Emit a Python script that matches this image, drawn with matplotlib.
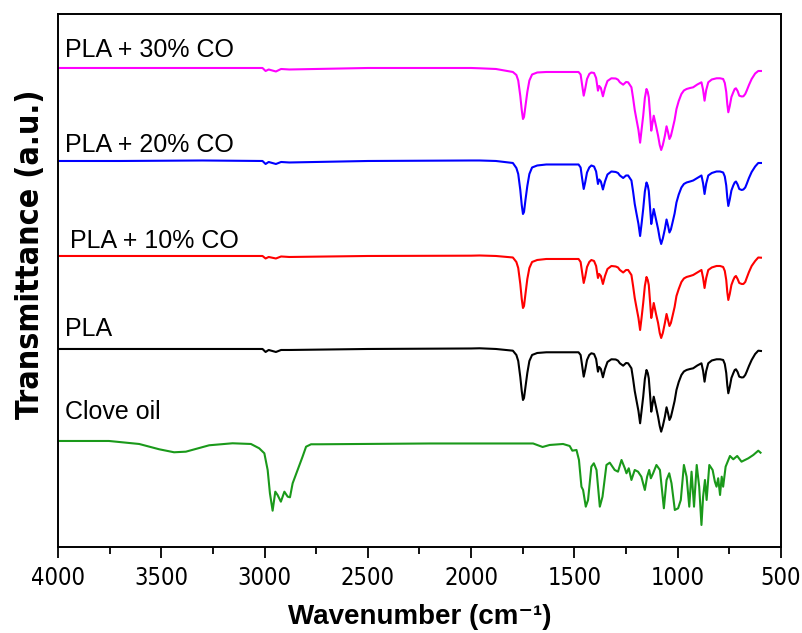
import numpy as np
import matplotlib
matplotlib.use("Agg")
import matplotlib.pyplot as plt
from matplotlib import font_manager as fm
from matplotlib.ticker import MultipleLocator

# narrow axis font if the condensed DejaVu face is installed
_cond = "Condensed" in fm.findfont(fm.FontProperties(family="DejaVu Sans", stretch="condensed"))
AXFONT = dict(family="DejaVu Sans", stretch="condensed") if _cond else dict(family="Liberation Sans")

# ---- data (relative transmittance, a.u.; 0 = flat baseline) ----
pla_wn = [4000, 3700, 3300, 3010, 2995, 2980, 2945, 2920, 2880, 2500, 2000, 1959, 1880,
          1798, 1781, 1772, 1762, 1755, 1749, 1744, 1737, 1728, 1718, 1705, 1680, 1636,
          1480, 1470, 1463, 1455, 1448, 1439, 1428, 1418, 1405, 1395, 1386, 1380, 1372,
          1362, 1352, 1340, 1321, 1300, 1289, 1280, 1264, 1250, 1240, 1224, 1216, 1208,
          1200, 1190, 1182, 1175, 1167, 1159, 1151, 1145, 1140, 1133, 1128, 1122, 1116,
          1105, 1095, 1087, 1080, 1072, 1062, 1054, 1047, 1040, 1033, 1025, 1015, 1006,
          995, 982, 970, 957, 940, 925, 905, 885, 877, 870, 862, 852, 835, 812, 795, 780,
          772, 765, 760, 755, 748, 740, 731, 724, 718, 710, 702, 690, 682, 673, 666,
          655, 642, 625, 610, 597]

pla = [0, 0, 0, 0, -3, -1, -3, -1, -1, 0, 0.5, 0.7, 0,
       -1.7, -6, -12, -28, -42, -51, -49, -38, -24, -12, -6, -4, -3.3,
       -3.3, -6, -16, -27.7, -21, -11, -6, -4.3, -5, -10, -22.7, -18, -20,
       -28.3, -20, -13, -10.3, -10.5, -11.7, -14.3, -16.7, -14, -14.3, -19.3, -30, -42,
       -51, -62, -74.3, -62, -47.7, -30, -21, -24, -29.3, -48, -62.7, -55, -47.7,
       -58, -67.7, -77, -82.7, -77, -67.7, -58.3, -64, -71, -68, -61, -52, -41,
       -33, -26, -22.5, -21, -20, -19.3, -16.5, -14.3, -22, -32.7, -22, -14.3, -11.5, -10.3, -10.3, -11,
       -15, -24, -36, -44.3, -38, -29, -24.3, -21, -20.3, -23, -27.7, -28.5, -28.3, -26, -22.7,
       -17, -11, -5, -1.7, -2]

pla_10co = [0, 0, 0, 0, -2.5, -1, -2.5, -0.5, -1, 0, 0.3, 0.5, 0,
            -1.5, -6, -12, -28, -43, -52, -50, -38, -23, -12, -6, -4, -3,
            -3, -6, -16, -27, -21, -11, -6, -4, -5, -10, -22, -18, -20,
            -28, -20, -13, -10, -10.5, -11.5, -14, -16.5, -14, -14, -19, -30, -42,
            -51, -62, -74, -62, -47, -30, -21, -24, -29, -48, -62, -55, -47,
            -58, -67, -77, -82, -77, -67, -58, -64, -70, -67, -60, -51, -40,
            -33, -26, -22.5, -21, -20, -19, -16.5, -14, -22, -32, -22, -14, -11.5, -10, -10, -11,
            -15, -24, -36, -44, -38, -29, -24, -21, -20, -23, -27, -28, -28, -26, -22,
            -16, -10, -5, -1.5, -1.7]

pla_20co = [0, 0, 0.5, 0, -3, -1, -3, -1, -1.5, 0, 0.5, 0.5, 0,
            -2, -7, -13, -29, -44, -53, -51, -39, -25, -13, -6.5, -4.5, -3.5,
            -3.5, -6.5, -17, -28, -21.5, -11.5, -6.5, -4.5, -5.5, -10.5, -23, -18.5, -20.5,
            -28.5, -20.5, -13.5, -10.5, -11, -12, -14.5, -17, -14.5, -14.5, -19.5, -30.5, -43,
            -52, -63, -75, -63, -48, -30.5, -21.5, -24.5, -30, -49, -63, -55.5, -48,
            -58.5, -68, -77.5, -83, -77.5, -68, -58.5, -64.5, -71.5, -68.5, -61.5, -52.5, -41.5,
            -33.5, -26.5, -23, -21.5, -20.5, -19.5, -17, -14.5, -22.5, -33, -22.5, -14.5, -12, -10.5, -10.5, -11.5,
            -15.5, -24.5, -36.5, -45, -38.5, -29.5, -24.5, -21.5, -20.5, -23.5, -28, -29, -28.5, -26.5, -23,
            -17, -11, -5.5, -2, -2]

pla_30co = [0, 0, 0, 0, -3, -1.5, -3.5, -1, -1.5, 0, 0, -0.3, -1,
            -4, -7, -12.5, -28, -42, -51, -49, -38, -24, -12.5, -6.5, -4.5, -4,
            -4, -6.5, -16.5, -27.7, -21, -11, -6, -4.5, -5, -10, -22.7, -18, -20,
            -28.3, -20, -13, -10.3, -10.5, -11.7, -14.3, -16.7, -14, -14.3, -19.3, -30, -42,
            -51, -62, -74.7, -62, -47.7, -30, -21, -24, -29.3, -48, -62.7, -55, -47.7,
            -58, -67.7, -77, -82, -77, -67.7, -58.3, -64, -71, -68, -61, -52, -41,
            -33, -26, -22.5, -21, -20, -19.3, -16.5, -14.3, -22, -32.7, -22, -14.3, -11.5, -10.3, -10.3, -11,
            -15, -24, -36, -44.3, -38, -29, -24.3, -21, -20.3, -23, -27.7, -28.5, -28.3, -26, -22.7,
            -17, -11, -5.5, -3, -3]

clove_wn = [4000, 3753, 3607, 3510, 3438, 3381, 3268, 3155, 3066, 3026, 3001, 2985, 2974,
            2961, 2948, 2937, 2921, 2904, 2888, 2877, 2864, 2840, 2816, 2799, 2775, 2735,
            2200, 1700, 1654, 1620, 1555, 1523, 1510, 1490, 1478, 1466, 1458, 1445, 1434,
            1418, 1406, 1393, 1377, 1364, 1345, 1329, 1305, 1289, 1272, 1256, 1248, 1237,
            1224, 1208, 1192, 1176, 1159, 1148, 1138, 1130, 1119, 1103, 1086, 1067, 1054,
            1041, 1030, 1014, 998, 985, 970, 957, 944, 933, 921, 908, 896, 885, 877,
            868, 860, 847, 831, 820, 812, 804, 795, 787, 780, 768, 747, 731, 712, 691,
            658, 634, 610, 599]

clove = [0, 0, -3, -8.3, -11.3, -10.7, -4.3, -2.3, -3, -7.3, -12.3, -29, -52.3,
         -69.7, -50.7, -54, -60.7, -50.7, -55.7, -56.3, -42.3, -29, -15.7, -5.7, -3.3, -3.3,
         -2.5, -2.5, -6, -4, -3, -5, -9.7, -9, -19, -45.7, -49, -65.7, -59,
         -25.7, -22.3, -29, -65.7, -55.7, -24, -21.7, -29, -30.7, -19, -27.3, -32.3, -27.3,
         -39, -29, -30.7, -35.7, -49, -35.7, -29, -37.3, -32.3, -24, -29, -67.3, -39,
         -32.3, -42.3, -69, -67.3, -59, -24, -35.7, -65.7, -30.7, -65.7, -24, -45.7, -84, -55.7,
         -39, -59, -24, -29, -40.7, -45.7, -37.3, -54, -35.7, -45.7, -25.7, -15, -18.3, -15, -20.7,
         -17.3, -14, -9.7, -11.7]

names = ["PLA + 30% CO", "PLA + 20% CO", "PLA + 10% CO", "PLA", "Clove oil"]
spectra = [(pla_wn, pla_30co), (pla_wn, pla_20co), (pla_wn, pla_10co), (pla_wn, pla), (clove_wn, clove)]
colors = ["#ff00ff", "#0000ff", "#ff0000", "#000000", "#1a991a"]
offsets = [479, 386, 291, 198, 106]
label_y = [490, 395, 299, 211, 128]
label_x = [3965, 3965, 3940, 3965, 3965]

fig = plt.figure(figsize=(8.02, 6.33), dpi=100)
ax = fig.add_axes([0.0723, 0.1359, 0.9015, 0.842])

for name, (wn, vals), col, off, ly, lx in zip(names, spectra, colors, offsets, label_y, label_x):
    ax.plot(wn, np.array(vals) + off, color=col, lw=1.5, solid_joinstyle="round")
    ax.text(lx, ly, name, fontsize=18, color="black", va="baseline", ha="left",
            family=["Liberation Sans", "DejaVu Sans"])

ax.set_xlim(4000, 500)
ax.set_ylim(0, 533)
ax.xaxis.set_major_locator(MultipleLocator(500))
ax.xaxis.set_minor_locator(MultipleLocator(250))
ax.tick_params(axis="x", which="major", direction="out", length=8, width=1.3, pad=6)
ax.tick_params(axis="x", which="minor", direction="out", length=5, width=1.3)
for t in ax.get_xticklabels():
    t.set_fontsize(17); t.set(**AXFONT)
ax.set_yticks([])
for s in ax.spines.values():
    s.set_linewidth(1.4)

ax.set_xlabel("Wavenumber (cm\u207b\u00b9)", fontsize=20, fontweight="bold", labelpad=10,
              family=["Liberation Sans", "DejaVu Sans"])
ax.set_ylabel("Transmittance (a.u.)", fontsize=23, fontweight="bold", **AXFONT)
ax.yaxis.set_label_coords(-0.017, 0.55)

fig.savefig("out.png", dpi=100, facecolor="white")
